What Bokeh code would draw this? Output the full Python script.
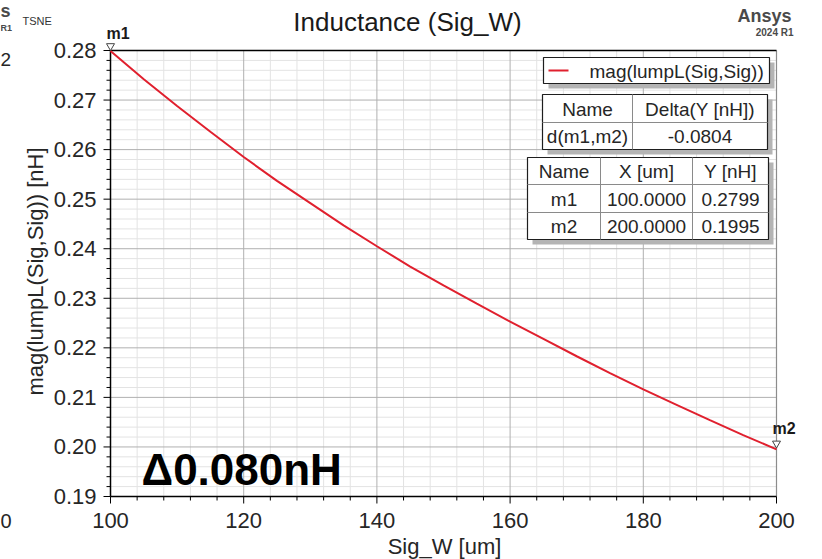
from bokeh.plotting import figure
from bokeh.models import Label, ColumnDataSource
from bokeh.core.properties import value
from bokeh.embed import file_html
from bokeh.resources import INLINE
import math

# Sweep of signal trace width vs. lumped inductance
sig_w = [100, 105, 110, 115, 120, 125, 130, 135, 140, 145, 150,
         155, 160, 165, 170, 175, 180, 185, 190, 195, 200]
lump_l = [0.2799, 0.2742, 0.2688, 0.2636, 0.2585, 0.2537, 0.2492, 0.2447, 0.2405, 0.2364, 0.2326,
          0.2289, 0.2253, 0.2218, 0.2183, 0.2149, 0.2116, 0.2085, 0.2054, 0.2024, 0.1995]

x_ticks = [100, 120, 140, 160, 180, 200]
x_tick_labels = ["100", "120", "140", "160", "180", "200"]
y_ticks = [0.19, 0.20, 0.21, 0.22, 0.23, 0.24, 0.25, 0.26, 0.27, 0.28]
y_tick_labels = ["0.19", "0.20", "0.21", "0.22", "0.23", "0.24", "0.25", "0.26", "0.27", "0.28"]
minor_per_major = 5

title_text = "Inductance (Sig_W)"
x_label = "Sig_W [um]"
y_label = "mag(lumpL(Sig,Sig)) [nH]"
trace_name = "mag(lumpL(Sig,Sig))"

X0, X1 = x_ticks[0], x_ticks[-1]
Y0, Y1 = y_ticks[0], y_ticks[-1]

W, H = 822, 559
FL, FR, FT, FB = 110, 776, 50, 496   # plot-area edges in canvas pixels

FONT = "Liberation Sans"
TXT = "#262626"
RED = "#e0202e"


def sx(px):
    return X0 + (px - FL) * (X1 - X0) / (FR - FL)


def sy(py):
    return Y1 - (py - FT) * (Y1 - Y0) / (FB - FT)


def dxp(n):
    return n * (X1 - X0) / (FR - FL)


def dyp(n):
    return n * (Y1 - Y0) / (FB - FT)


# the frame spans the whole canvas; the plot area is drawn inside it
p = figure(width=W, height=H, x_range=(sx(0), sx(W)), y_range=(sy(H), sy(0)),
           output_backend="svg", toolbar_location=None,
           x_axis_type=None, y_axis_type=None, min_border=0,
           background_fill_color="white", border_fill_color="white")
p.outline_line_color = None
p.grid.visible = False

# grid lines
x_minor, y_minor = [], []
for a, b in zip(x_ticks[:-1], x_ticks[1:]):
    x_minor += [a + (b - a) * k / minor_per_major for k in range(1, minor_per_major)]
for a, b in zip(y_ticks[:-1], y_ticks[1:]):
    y_minor += [a + (b - a) * k / minor_per_major for k in range(1, minor_per_major)]

p.segment(x0=x_minor, y0=[Y0] * len(x_minor), x1=x_minor, y1=[Y1] * len(x_minor),
          line_color="#e3e3e3", line_width=1)
p.segment(x0=[X0] * len(y_minor), y0=y_minor, x1=[X1] * len(y_minor), y1=y_minor,
          line_color="#e3e3e3", line_width=1)
xm = x_ticks[1:-1]
ym = y_ticks[1:-1]
p.segment(x0=xm, y0=[Y0] * len(xm), x1=xm, y1=[Y1] * len(xm), line_color="#b0b0b0", line_width=1)
p.segment(x0=[X0] * len(ym), y0=ym, x1=[X1] * len(ym), y1=ym, line_color="#b0b0b0", line_width=1)

# plot-area border: gray right edge, black axes and top edge
p.segment(x0=[X1], y0=[Y0], x1=[X1], y1=[Y1], line_color="#8c8c8c", line_width=1.2)
p.segment(x0=[X0, X0, X0], y0=[Y0, Y0, Y1], x1=[X0, X1, X1], y1=[Y1, Y0, Y1],
          line_color="black", line_width=1.5)

# tick marks
p.segment(x0=[X0 - dxp(7)] * len(y_ticks), y0=y_ticks, x1=[X0] * len(y_ticks), y1=y_ticks,
          line_color="black", line_width=1)
p.segment(x0=[X0 - dxp(4)] * len(y_minor), y0=y_minor, x1=[X0] * len(y_minor), y1=y_minor,
          line_color="black", line_width=1)
p.segment(x0=x_ticks, y0=[Y0 - dyp(7)] * len(x_ticks), x1=x_ticks, y1=[Y0] * len(x_ticks),
          line_color="black", line_width=1)
p.segment(x0=x_minor, y0=[Y0 - dyp(4)] * len(x_minor), x1=x_minor, y1=[Y0] * len(x_minor),
          line_color="black", line_width=1)

# tick labels
p.text(x=[X0 - dxp(14)] * len(y_ticks), y=y_ticks, text=y_tick_labels,
       text_font=value(FONT), text_font_size="22px", text_color=TXT,
       text_align="right", text_baseline="middle")
p.text(x=x_ticks, y=[Y0 - dyp(23.5)] * len(x_ticks), text=x_tick_labels,
       text_font=value(FONT), text_font_size="22px", text_color=TXT,
       text_align="center", text_baseline="middle")

# inductance trace
src = ColumnDataSource(dict(x=sig_w, y=lump_l))
p.line("x", "y", source=src, line_color=RED, line_width=2)

# markers m1 / m2
m1 = (sig_w[0], lump_l[0])
m2 = (sig_w[-1], lump_l[-1])
delta = m2[1] - m1[1]

p.scatter(x=[m1[0], m2[0]], y=[m1[1] + dyp(5), m2[1] + dyp(6)], marker="inverted_triangle",
          size=8, fill_color="white", line_color="#444444", line_width=1)
p.text(x=[m1[0] - dxp(4), m2[0] - dxp(4)], y=[m1[1] + dyp(17.5), m2[1] + dyp(21)],
       text=["m1", "m2"], text_font=value(FONT), text_font_size="16px",
       text_font_style="bold", text_color="#1a1a1a",
       text_align="left", text_baseline="middle")


def box(l, t, r, b, shadow=5):
    p.quad(left=sx(l + shadow), right=sx(r + shadow), top=sy(t + shadow), bottom=sy(b + shadow),
           fill_color="#b4b4b4", line_color=None)
    p.quad(left=sx(l), right=sx(r), top=sy(t), bottom=sy(b),
           fill_color="white", line_color="#1e1e1e", line_width=1.2)


def vline(px, t, b):
    p.segment(x0=sx(px), y0=sy(t), x1=sx(px), y1=sy(b), line_color="#8a8a8a", line_width=1)


def hline(py, l, r):
    p.segment(x0=sx(l), y0=sy(py), x1=sx(r), y1=sy(py), line_color="#8a8a8a", line_width=1)


def cell_text(texts, xs, ys, size="19px"):
    p.text(x=[sx(v) for v in xs], y=[sy(v) for v in ys], text=texts,
           text_font=value(FONT), text_font_size=size, text_color=TXT,
           text_align="center", text_baseline="middle")


# legend
box(543, 57, 769, 83)
p.segment(x0=sx(548), y0=sy(70), x1=sx(568), y1=sy(70), line_color=RED, line_width=2)
p.text(x=[sx(589)], y=[sy(71)], text=[trace_name], text_font=value(FONT),
       text_font_size="19px", text_color=TXT, text_align="left", text_baseline="middle")

# delta table
box(542, 94, 767, 149)
vline(632, 94, 149)
hline(122, 542, 767)
cell_text(["Name", "Delta(Y [nH])", "d(m1,m2)", f"{delta:.4f}"],
          [587, 699.5, 587, 699.5], [108.5, 108.5, 136, 136])

# marker table
box(527, 157, 768, 239)
vline(600, 157, 239)
vline(692, 157, 239)
hline(184, 527, 768)
hline(212, 527, 768)
cell_text(["Name", "X [um]", "Y [nH]",
           "m1", f"{m1[0]:.4f}", f"{m1[1]:.4f}",
           "m2", f"{m2[0]:.4f}", f"{m2[1]:.4f}"],
          [563.5, 646, 730] * 3,
          [171] * 3 + [198.5] * 3 + [226] * 3)


def canvas_label(px, py, text, size, align="left", bold=False, color=TXT, angle=0.0,
                 font=FONT):
    p.add_layout(Label(x=sx(px), y=sy(py), text=text, text_font=font,
                       text_font_size=size, text_align=align, text_baseline="middle",
                       text_font_style="bold" if bold else "normal",
                       text_color=color, angle=angle))


# delta callout
canvas_label(141, 469, f"\u0394{abs(delta):.3f}nH", "44px", bold=True, color="black")

# title and axis titles
canvas_label(407, 21.5, title_text, "26px", align="center", color="#1a1a1a")
canvas_label(444, 545.5, x_label, "22px", align="center")
canvas_label(35, 271, y_label, "22px", align="center", angle=math.pi / 2)

# product badge
canvas_label(791, 15, "Ansys", "18px", align="right", bold=True, color="#4a4a4a")
canvas_label(793, 31.5, "2024 R1", "10px", align="right", bold=True, color="#4a4a4a")

# edge of the adjacent panel
canvas_label(0, 10, "s", "18px", bold=True, color="#4a4a4a")
canvas_label(0, 27, "R1", "9px", bold=True, color="#4a4a4a")
canvas_label(22, 20, "TSNE", "11px", color="#333333")
canvas_label(0, 59, "2", "19px")
canvas_label(0, 520.5, "0", "20px")

open("out.html", "w").write(file_html(p, INLINE))
